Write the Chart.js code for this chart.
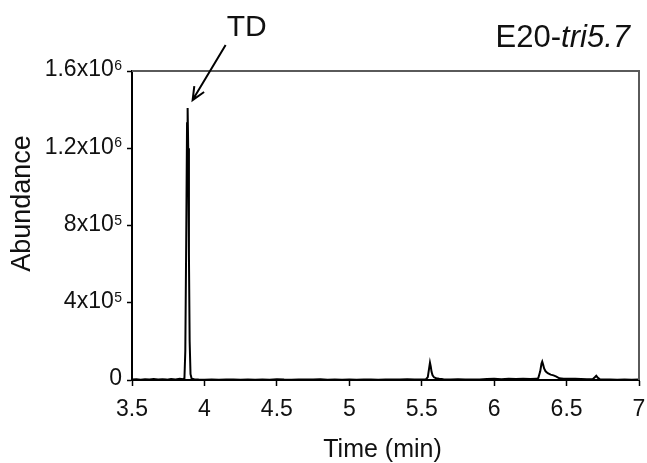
<!DOCTYPE html>
<html>
<head>
<meta charset="utf-8">
<script src="https://cdn.jsdelivr.net/npm/chart.js@4"></script>
<style>
  html, body { margin: 0; padding: 0; background: #fff; }
  canvas { display: block; }
</style>
</head>
<body>
<canvas id="c" width="647" height="463"></canvas>
<script>
// Retention time (min) of each sampled point of the chromatogram
const times = [
  3.50, 3.53, 3.56, 3.59, 3.62, 3.65, 3.68, 3.71, 3.74, 3.77,
  3.80, 3.83, 3.85, 3.862, 3.868, 3.874, 3.880, 3.884, 3.888, 3.893,
  3.898, 3.904, 3.912, 3.93, 3.96, 4.00, 4.05, 4.10, 4.15, 4.20,
  4.25, 4.30, 4.35, 4.40, 4.45, 4.50, 4.55, 4.60, 4.65, 4.70,
  4.75, 4.80, 4.85, 4.90, 4.95, 5.00, 5.05, 5.10, 5.15, 5.20,
  5.25, 5.30, 5.35, 5.40, 5.45, 5.50, 5.53, 5.542, 5.550, 5.557,
  5.562, 5.568, 5.575, 5.585, 5.60, 5.62, 5.65, 5.70, 5.75, 5.80,
  5.85, 5.90, 5.95, 6.00, 6.05, 6.10, 6.15, 6.20, 6.25, 6.29,
  6.305, 6.318, 6.327, 6.332, 6.338, 6.345, 6.355, 6.37, 6.39, 6.41,
  6.43, 6.45, 6.48, 6.52, 6.56, 6.60, 6.64, 6.68, 6.695, 6.705,
  6.715, 6.73, 6.76, 6.80, 6.85, 6.90, 6.95, 7.00
];

// Detector abundance at each retention time
const abundance = [
  2000, 3500, 1500, 4000, 2500, 5000, 3000, 4500, 2000, 5500,
  3000, 6000, 4000, 8000, 150000, 700000, 1330000, 1408000, 1200000, 650000,
  200000, 30000, 6000, 3500, 2000, 1000, 2500, 1500, 3000, 2000,
  1000, 3000, 1500, 2500, 1000, 3500, 2000, 1500, 3000, 2500,
  2000, 3500, 1500, 3000, 1000, 2500, 1500, 2000, 3000, 1500,
  2500, 3000, 2000, 3500, 2500, 3000, 4000, 15000, 55000, 90000,
  72000, 42000, 24000, 14000, 9000, 6000, 4000, 3000, 3500, 2500,
  3000, 2500, 5000, 6000, 4500, 6500, 5000, 6000, 5500, 6000,
  10000, 45000, 85000, 95000, 80000, 60000, 45000, 35000, 28000, 24000,
  18000, 9000, 7000, 6500, 6000, 5000, 3500, 4000, 14000, 22000,
  12000, 4000, 2500, 2000, 1500, 2500, 1500, 2000
];

// Axis ranges and tick steps
const xRange = [3.5, 7];
const xStep = 0.5;
const yRange = [0, 1600000];
const yStep = 400000;

// Annotations
const peakLabel = 'TD';
const peakTime = 3.884;
const peakAbundance = 1408000;
const sampleName = ['E20-', 'tri5.7'];
const xTitle = 'Time (min)';
const yTitle = 'Abundance';

const FONT = '"Liberation Sans", Arial, Helvetica, sans-serif';

function splitSci(v) {
  if (v === 0) return ['0', ''];
  const e = Math.floor(Math.log10(v) + 1e-9);
  let m = Math.round((v / Math.pow(10, e)) * 10) / 10;
  return [String(m) + 'x10', String(e)];
}

const decorations = {
  id: 'decorations',
  afterDraw(chart) {
    const ctx = chart.ctx;
    const a = chart.chartArea;
    const xs = chart.scales.x, ys = chart.scales.y;
    ctx.save();

    // top and right frame lines
    ctx.strokeStyle = '#5a5a5a';
    ctx.lineWidth = 2;
    ctx.beginPath();
    ctx.moveTo(a.left, a.top);
    ctx.lineTo(a.right, a.top);
    ctx.lineTo(a.right, a.bottom);
    ctx.stroke();

    // y tick labels in scientific notation with superscript exponents
    ctx.fillStyle = '#111';
    const rightX = a.left - 10;
    ys.ticks.forEach(t => {
      const y = ys.getPixelForValue(t.value);
      const [base, exp] = splitSci(t.value);
      ctx.font = '14px ' + FONT;
      const ew = exp ? ctx.measureText(exp).width : 0;
      if (exp) {
        ctx.textAlign = 'right';
        ctx.textBaseline = 'alphabetic';
        ctx.fillText(exp, rightX, y - 1);
      }
      ctx.font = '23px ' + FONT;
      ctx.textAlign = 'right';
      ctx.textBaseline = 'middle';
      ctx.fillText(base, rightX - ew - (exp ? 0.5 : 0), y - 1);
    });

    // axis titles
    ctx.font = '27px ' + FONT;
    ctx.textAlign = 'center';
    ctx.textBaseline = 'middle';
    ctx.save();
    ctx.translate(23, (a.top + a.bottom) / 2 - 22);
    ctx.rotate(-Math.PI / 2);
    ctx.fillText(yTitle, 0, 0);
    ctx.restore();

    ctx.font = '25px ' + FONT;
    ctx.textBaseline = 'alphabetic';
    ctx.fillText(xTitle, (a.left + a.right) / 2 - 3, a.bottom + 77);

    // sample name, top right
    ctx.textBaseline = 'alphabetic';
    ctx.font = 'italic 31px ' + FONT;
    const w2 = ctx.measureText(sampleName[1]).width;
    ctx.font = '31px ' + FONT;
    const w1 = ctx.measureText(sampleName[0]).width;
    const endX = a.right - 9;
    const baseY = a.top - 24;
    ctx.textAlign = 'left';
    ctx.fillText(sampleName[0], endX - w2 - w1, baseY);
    ctx.font = 'italic 31px ' + FONT;
    ctx.fillText(sampleName[1], endX - w2, baseY);

    // peak label and arrow
    const px = xs.getPixelForValue(peakTime);
    const py = ys.getPixelForValue(peakAbundance);
    ctx.font = '30px ' + FONT;
    ctx.textAlign = 'center';
    ctx.fillText(peakLabel, px + 59, py - 72);

    const sx = px + 38, sy = py - 63;
    const tx = px + 5, ty = py - 8;
    ctx.strokeStyle = '#000';
    ctx.lineWidth = 2;
    ctx.beginPath();
    ctx.moveTo(sx, sy);
    ctx.lineTo(tx, ty);
    const ang = Math.atan2(sy - ty, sx - tx);
    const hl = 14, spread = 0.42;
    ctx.moveTo(tx + hl * Math.cos(ang - spread), ty + hl * Math.sin(ang - spread));
    ctx.lineTo(tx, ty);
    ctx.lineTo(tx + hl * Math.cos(ang + spread), ty + hl * Math.sin(ang + spread));
    ctx.stroke();

    ctx.restore();
  }
};

const points = times.map((t, i) => ({ x: t, y: abundance[i] }));

new Chart(document.getElementById('c'), {
  type: 'line',
  data: {
    datasets: [{
      data: points,
      borderColor: '#000',
      borderWidth: 2,
      pointRadius: 0,
      tension: 0,
      fill: false
    }]
  },
  options: {
    responsive: false,
    animation: false,
    layout: { padding: { top: 71, right: 8, left: 0, bottom: 0 } },
    plugins: { legend: { display: false }, tooltip: { enabled: false } },
    scales: {
      x: {
        type: 'linear',
        min: xRange[0],
        max: xRange[1],
        ticks: {
          stepSize: xStep,
          color: '#111',
          font: { family: FONT, size: 23 },
          padding: 10,
          maxRotation: 0,
          callback: v => String(Math.round(v * 10) / 10)
        },
        grid: { drawOnChartArea: false, tickLength: 6, tickColor: '#000', tickWidth: 1.5 },
        border: { color: '#000', width: 2 },
        afterFit: s => { s.height = 83; s.paddingLeft = 0; s.paddingRight = 0; }
      },
      y: {
        type: 'linear',
        min: yRange[0],
        max: yRange[1],
        ticks: {
          stepSize: yStep,
          callback: () => ''
        },
        grid: { drawOnChartArea: false, tickLength: 5, tickColor: '#000', tickWidth: 1.5 },
        border: { color: '#000', width: 2 },
        afterFit: s => { s.width = 132; s.paddingTop = 0; s.paddingBottom = 0; }
      }
    }
  },
  plugins: [decorations]
});
</script>
</body>
</html>
